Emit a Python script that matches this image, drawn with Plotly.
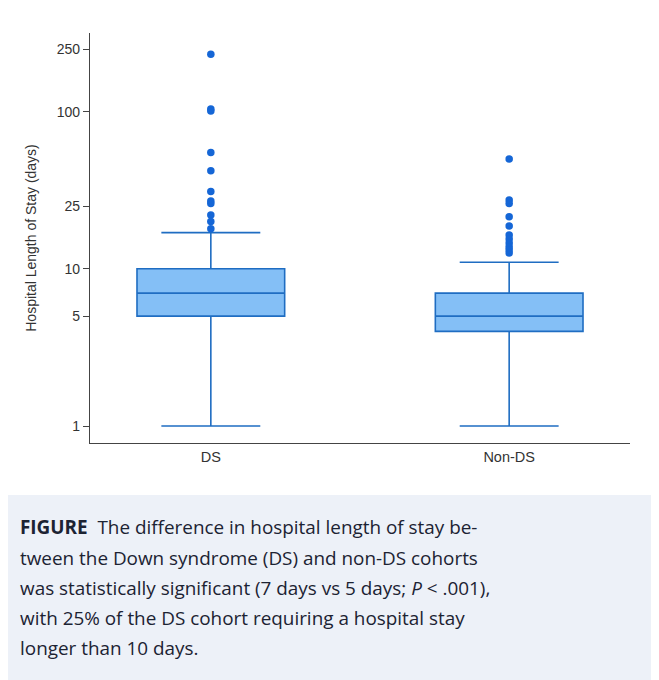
import plotly.graph_objects as go

# ---- data ----
categories = ["DS", "Non-DS"]
q1 = [5, 4]
median = [7, 5]
q3 = [10, 7]
lower_fence = [1, 1]
upper_fence = [17, 11]
ds_outliers = [232, 104, 101, 55, 42, 31, 27, 26, 22, 20, 18]
nonds_outliers = [50, 27.4, 26, 21.4, 18.7, 16.4, 15.5, 14.6, 13.8, 13.2, 12.6]
y_ticks = [1, 5, 10, 25, 100, 250]
caption_lines = [
    "<b>FIGURE</b>  The difference in hospital length of stay be-",
    "tween the Down syndrome (DS) and non-DS cohorts",
    "was statistically significant (7 days vs 5 days; <i>P</i> < .001),",
    "with 25% of the DS cohort requiring a hospital stay",
    "longer than 10 days.",
]

OFF = 8  # page body margin
W, H = 659 - OFF, 680 - OFF
L, R, T, B = 90 - OFF, 659 - 630, 33 - OFF, 680 - 443
PW, PH = W - L - R, H - T - B

def px_x(px):
    return (px - OFF - L) / PW

def px_y(py):
    return (H - B - (py - OFF)) / PH

fig = go.Figure()
fig.add_trace(go.Box(
    x=categories, q1=q1, median=median, q3=q3,
    lowerfence=lower_fence, upperfence=upper_fence,
    fillcolor="#84bff6", line=dict(color="#1f6dc2", width=1.6),
    whiskerwidth=0.67, width=0.495, boxpoints=False, showlegend=False,
))
out_x = [categories[0]] * len(ds_outliers) + [categories[1]] * len(nonds_outliers)
out_y = ds_outliers + nonds_outliers
fig.add_trace(go.Scatter(
    x=out_x, y=out_y, mode="markers",
    marker=dict(color="#1566d6", size=7.5), showlegend=False,
))

fig.update_layout(
    width=W, height=H,
    margin=dict(l=L, r=R, t=T, b=B),
    paper_bgcolor="white", plot_bgcolor="white",
    font=dict(family="Liberation Sans, Arial", size=13, color="#333333"),
    xaxis=dict(
        type="category", range=[-0.405, 1.405],
        showline=True, linecolor="#444444", linewidth=1.2,
        ticks="", showgrid=False, zeroline=False,
        tickfont=dict(size=14.5, color="#333333"),
    ),
    yaxis=dict(
        type="log", range=[-0.108, 2.5],
        tickvals=y_ticks, ticktext=[str(v) for v in y_ticks],
        showline=True, linecolor="#444444", linewidth=1.2,
        ticks="outside", ticklen=6, tickcolor="#444444",
        showgrid=False, zeroline=False,
        tickfont=dict(size=14, color="#333333"),
        title=dict(text="Hospital Length of Stay (days)", standoff=16,
                   font=dict(size=14, color="#333333")),
    ),
)

# caption background and right border
fig.add_shape(type="rect", xref="paper", yref="paper",
              x0=px_x(0), x1=px_x(653), y0=px_y(495), y1=px_y(690),
              fillcolor="#edf1f8", line=dict(width=0), layer="below")
fig.add_shape(type="line", xref="paper", yref="paper",
              x0=px_x(656.5), x1=px_x(656.5), y0=px_y(0), y1=px_y(679),
              line=dict(color="#222222", width=2), layer="above")

line_y = [527, 558, 588, 618, 648]
for txt, ly in zip(caption_lines, line_y):
    fig.add_annotation(
        text=txt, xref="paper", yref="paper",
        x=px_x(18), y=px_y(ly), xanchor="left", yanchor="middle",
        showarrow=False, align="left",
        font=dict(family="Open Sans", size=18.9, color="#1c2333"),
    )

fig.write_html("out.html")
